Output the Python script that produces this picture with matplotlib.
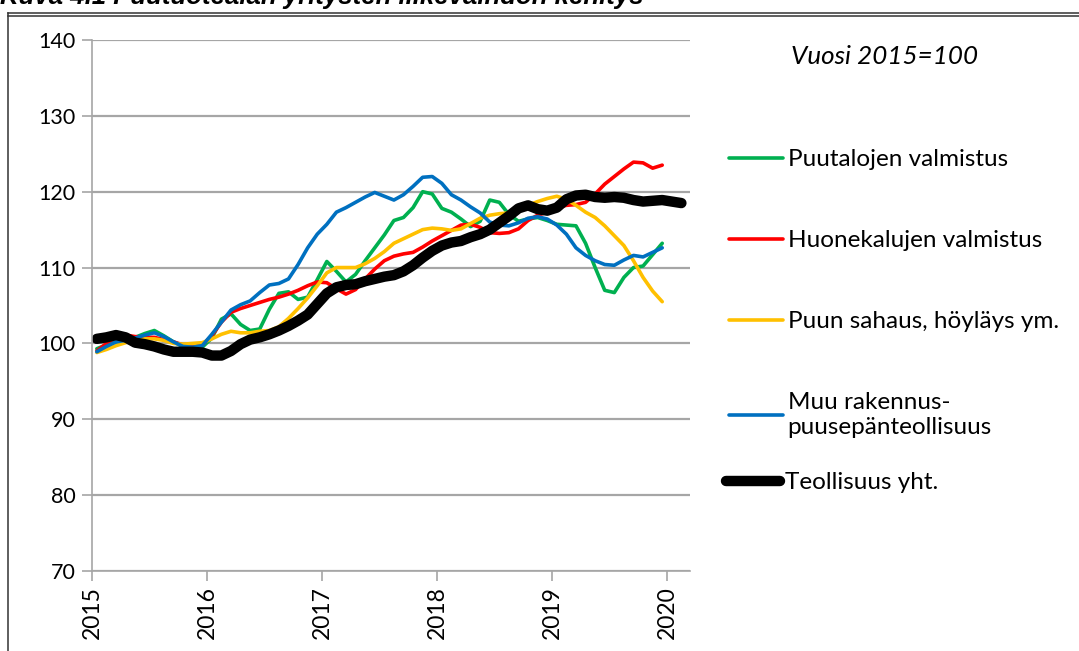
import numpy as np
import matplotlib
matplotlib.use("Agg")
import matplotlib.pyplot as plt

plt.rcParams['font.family'] = ['Lato', 'DejaVu Sans']

# monthly trend index, 2015=100 (Jan 2015 ->)
puutalot = [99.3, 99.8, 100.2, 100.5, 100.8, 101.3, 101.7, 101.0, 100.2, 99.6, 99.5, 99.5,
            100.7, 103.2, 103.9, 102.5, 101.7, 101.9, 104.5, 106.6, 106.8, 105.8, 106.1, 108.4,
            110.8, 109.5, 108.1, 109.1, 110.9, 112.6, 114.3, 116.2, 116.6, 117.9, 120.0, 119.7,
            117.8, 117.3, 116.4, 115.4, 116.1, 118.9, 118.6, 117.0, 116.1, 116.4, 116.6, 116.2,
            115.7, 115.6, 115.5, 113.2, 110.0, 107.0, 106.7, 108.7, 110.0, 110.2, 111.7, 113.2]
huonekalut = [99.0, 100.0, 100.8, 101.1, 100.9, 100.8, 100.8, 100.5, 100.2, 99.8, 99.6, 99.8,
              101.0, 102.8, 104.1, 104.6, 105.0, 105.4, 105.8, 106.1, 106.5, 107.0, 107.6, 108.1,
              108.0, 107.2, 106.5, 107.1, 108.5, 109.8, 110.9, 111.5, 111.8, 112.0, 112.7, 113.5,
              114.2, 114.9, 115.6, 115.7, 115.3, 114.6, 114.5, 114.6, 115.1, 116.2, 116.9, 117.3,
              117.9, 118.2, 118.3, 118.6, 119.7, 121.0, 122.0, 123.0, 123.9, 123.8, 123.1, 123.5]
sahaus = [98.8, 99.2, 99.7, 100.1, 100.4, 100.6, 100.6, 100.4, 100.0, 99.9, 100.0, 100.1,
          100.6, 101.2, 101.6, 101.4, 101.4, 101.6, 101.7, 102.2, 103.3, 104.6, 106.0, 107.6,
          109.3, 110.0, 110.0, 110.0, 110.5, 111.2, 112.1, 113.2, 113.8, 114.4, 115.0, 115.2,
          115.1, 114.9, 115.1, 115.8, 116.5, 116.9, 117.1, 117.2, 117.7, 118.2, 118.7, 119.1,
          119.4, 119.0, 118.2, 117.3, 116.6, 115.5, 114.2, 112.9, 110.9, 108.7, 106.9, 105.5]
muu_rak = [98.9, 99.6, 100.2, 100.4, 100.7, 101.1, 101.4, 100.9, 100.2, 99.6, 99.5, 99.7,
           101.2, 102.8, 104.4, 105.1, 105.6, 106.7, 107.7, 107.9, 108.5, 110.4, 112.6, 114.4,
           115.7, 117.3, 117.9, 118.6, 119.3, 119.9, 119.4, 118.9, 119.6, 120.7, 121.9, 122.0,
           121.1, 119.6, 118.9, 118.0, 117.2, 116.0, 115.6, 115.5, 115.9, 116.5, 116.7, 116.4,
           115.6, 114.4, 112.6, 111.6, 110.9, 110.4, 110.3, 111.0, 111.6, 111.4, 112.0, 112.6]
teollisuus = [100.6, 100.8, 101.1, 100.8, 100.1, 99.9, 99.6, 99.2, 98.9, 98.9, 98.9, 98.8,
              98.4, 98.4, 99.0, 99.9, 100.5, 100.8, 101.2, 101.7, 102.3, 103.0, 103.8, 105.2,
              106.6, 107.4, 107.7, 107.8, 108.2, 108.5, 108.8, 109.0, 109.5, 110.3, 111.3, 112.2,
              112.9, 113.3, 113.5, 114.0, 114.4, 115.0, 115.9, 116.8, 117.8, 118.2, 117.7, 117.5,
              117.9, 119.0, 119.5, 119.6, 119.3, 119.2, 119.3, 119.2, 118.9, 118.7, 118.8, 118.9,
              118.7, 118.5]

labels = ["Puutalojen valmistus", "Huonekalujen valmistus", "Puun sahaus, höyläys ym.",
          "Muu rakennus-\npuusepänteollisuus", "Teollisuus yht."]
colors = ["#00b050", "#ff0000", "#ffc000", "#0070c0", "#000000"]
years = [2015, 2016, 2017, 2018, 2019, 2020]


def months(n):
    # points sit in the middle of each month
    return 2015 + (np.arange(n) + 0.5) / 12


fig = plt.figure(figsize=(10.79, 6.51), dpi=100)
ax = fig.add_axes([0.0853, 0.1229, 0.5542, 0.8157])

series = [puutalot, huonekalut, sahaus, muu_rak, teollisuus]
lines = []
for vals, lab, col in zip(series, labels, colors):
    lw = 7.5 if col == "#000000" else 2.6
    ln, = ax.plot(months(len(vals)), vals, color=col, lw=lw, label=lab,
                  solid_capstyle='round', solid_joinstyle='round')
    lines.append(ln)

ax.set_xlim(2015, 2020.2)
ax.set_ylim(70, 140)
ax.set_yticks(range(70, 141, 10))
ax.set_xticks(years)
ax.set_xticklabels([str(y) for y in years], rotation=90, fontsize=16.5)
ax.tick_params(axis='y', labelsize=15.5, length=7, color='#a6a6a6', width=1.2, pad=5)
ax.tick_params(axis='x', length=7, color='#a6a6a6', width=1.2, pad=4)
ax.grid(axis='y', color='#a6a6a6', lw=1.6)
ax.set_axisbelow(True)
for s in ['top', 'right']:
    ax.spines[s].set_visible(False)
ax.spines['left'].set_color('#a6a6a6')
ax.spines['bottom'].set_color('#a6a6a6')
ax.spines['left'].set_linewidth(1.2)
ax.spines['bottom'].set_linewidth(1.2)

leg_kw = dict(loc='upper left', frameon=False, fontsize=17.5, handlelength=2.2,
              handletextpad=0.2, labelspacing=2.47, borderaxespad=0, borderpad=0)
fig.legend(lines[:4], labels[:4], bbox_to_anchor=(0.676, 1 - 149 / 651), **leg_kw)
fig.legend(lines[4:], labels[4:], bbox_to_anchor=(0.673, 1 - 472 / 651), **leg_kw)

fig.text(885 / 1079, 1 - 57 / 651, "Vuosi 2015=100", fontsize=18.7, style='italic',
         ha='center', va='center')

# figure caption, cut off by the page edge, and the frame lines
fig.text(0.0, 1 - 4 / 651, "Kuva 4.1 Puutuotealan yritysten liikevaihdon kehitys",
         family='Liberation Sans', fontsize=18.5, style='italic', weight='bold',
         ha='left', va='baseline')
for yy in (12.5, 16):
    fig.add_artist(plt.Line2D([8 / 1079, 1], [1 - yy / 651] * 2, color='#333333', lw=1.1))
fig.add_artist(plt.Line2D([8 / 1079] * 2, [0, 1 - 12.5 / 651], color='#333333', lw=1.1))

fig.savefig("out.png", dpi=100)
